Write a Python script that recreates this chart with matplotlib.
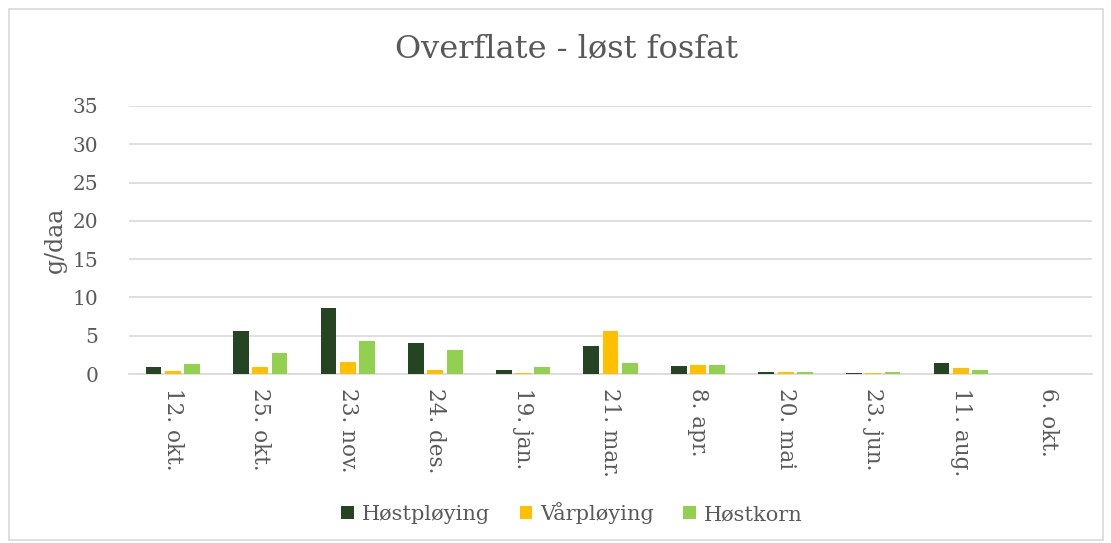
import matplotlib.pyplot as plt
from matplotlib.patches import Rectangle
import numpy as np

dates = ['12. okt.', '25. okt.', '23. nov.', '24. des.', '19. jan.', '21. mar.',
         '8. apr.', '20. mai', '23. jun.', '11. aug.', '6. okt.']
hostploying = [0.9, 5.6, 8.6, 4.0, 0.5, 3.7, 1.1, 0.3, 0.2, 1.5, 0.0]
varploying = [0.35, 0.9, 1.6, 0.5, 0.2, 5.65, 1.25, 0.28, 0.2, 0.8, 0.0]
hostkorn = [1.3, 2.8, 4.35, 3.1, 0.95, 1.4, 1.15, 0.28, 0.25, 0.5, 0.0]

series = [('Høstpløying', hostploying, '#254421'),
          ('Vårpløying', varploying, '#ffc000'),
          ('Høstkorn', hostkorn, '#92d050')]

plt.rcParams['font.family'] = ['DejaVu Serif']
txt = '#595959'
grid = '#d9d9d9'

fig = plt.figure(figsize=(11.11, 5.43), dpi=100)
fig.patches.append(Rectangle((0.008, 0.005), 0.985, 0.978, transform=fig.transFigure,
                             fill=False, edgecolor=grid, linewidth=1.2))
ax = fig.add_axes([0.116, 0.311, 0.867, 0.494])

x = np.arange(len(dates))
w = 0.18
step = 0.22
for i, (name, vals, col) in enumerate(series):
    ax.bar(x + (i - 1) * step, vals, width=w, color=col, label=name, zorder=3)

ax.set_xlim(-0.5, len(dates) - 0.5)
ax.set_ylim(0, 35)
ax.set_yticks(range(0, 36, 5))
ax.yaxis.grid(True, color=grid, linewidth=1.2, zorder=0)
for s in ['top', 'right', 'left']:
    ax.spines[s].set_visible(False)
ax.spines['bottom'].set_color(grid)
ax.spines['bottom'].set_linewidth(1.2)
ax.tick_params(length=0, labelcolor=txt, labelsize=14.5)
ax.tick_params(axis='y', pad=22)
ax.set_xticks(x)
ax.set_xticklabels(dates, rotation=270, va='top', ha='center', fontsize=15.5)
ax.tick_params(axis='x', pad=10)
ax.set_ylabel('g/daa', color=txt, fontsize=17, labelpad=4)
fig.text(0.51, 0.908, 'Overflate - løst fosfat', color=txt, fontsize=23,
         ha='center', va='center')

fig.legend(loc='center', bbox_to_anchor=(0.515, 0.055), ncol=3, frameon=False,
           fontsize=15, labelcolor=txt, handlelength=0.6, handleheight=0.6,
           handletextpad=0.4, columnspacing=1.4)

fig.savefig('out.png', dpi=100)
